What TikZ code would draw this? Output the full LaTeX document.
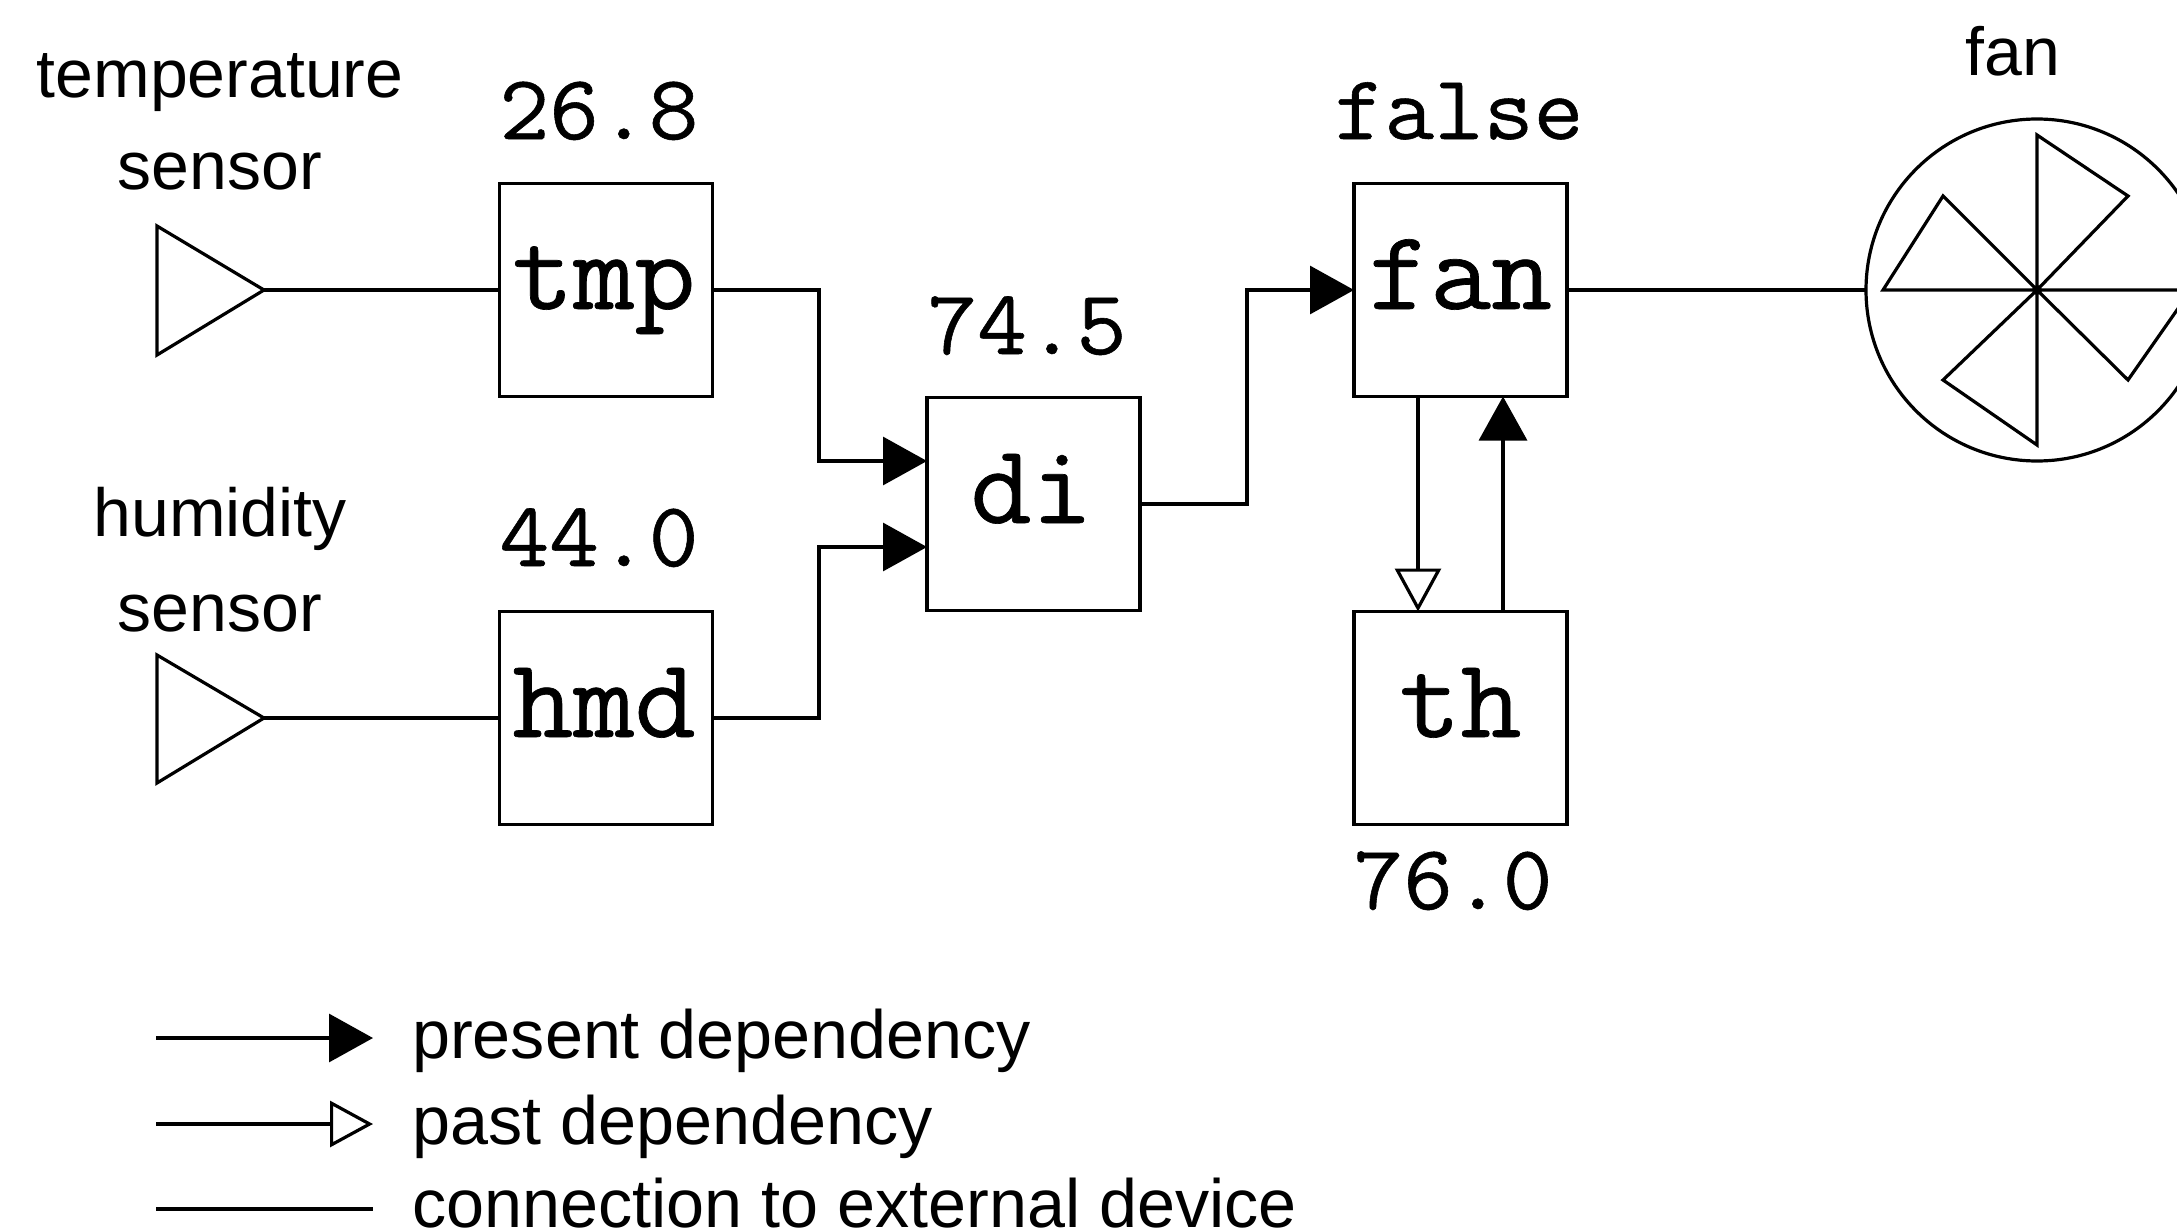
\documentclass[tikz,border=0pt]{standalone}
\usepackage{fontspec}
\setmainfont{Liberation Sans}
\newfontfamily\blockfont[FakeBold=0.6,FakeStretch=1.05]{Latin Modern Mono}
\usetikzlibrary{arrows.meta}
\tikzset{
  wire/.style={line width=3.2pt,line join=miter},
  present/.style={wire,-{Triangle[length=44pt,width=48pt]}},
  past/.style={wire,-{Triangle[open,fill=white,length=43pt,width=46pt]}},
  blockbox/.style={draw,line width=3.2pt,inner sep=0pt,outer sep=0pt,minimum width=213pt,minimum height=213pt,
    text height=50pt,text depth=12pt,font=\blockfont\fontsize{113}{113}\selectfont},
  valuetext/.style={anchor=base,inner sep=0pt,font=\blockfont\fontsize{92}{92}\selectfont},
  labeltext/.style={anchor=base,inner sep=0pt,font=\fontsize{68}{68}\selectfont},
  legendtext/.style={anchor=base west,inner sep=0pt,font=\fontsize{68.3}{68}\selectfont},
}
\begin{document}
\begin{tikzpicture}[x=1pt,y=-1pt]
\useasboundingbox (0,0) rectangle (2177,1231);
\clip (0,0) rectangle (2177,1231);
% blocks
\node[blockbox] (tmp) at (606,290) {\hspace*{-4pt}tmp};
\node[blockbox] (hmd) at (606,718) {\hspace*{-4pt}hmd};
\node[blockbox] (di)  at (1033.5,504) {\hspace*{-4pt}di};
\node[blockbox] (fanb) at (1460.5,290) {fan};
\node[blockbox] (th)  at (1460.5,718) {th};
% values
\node[valuetext] (vtmp) at (599,139) {26.8};
\node[valuetext] (vhmd) at (599,566) {44.0};
\node[valuetext] (vdi)  at (1027,354) {74.5};
\node[valuetext] (vfan) at (1459,139) {false};
\node[valuetext] (vth)  at (1453,909) {76.0};
% labels
\node[labeltext] (l1) at (220,97) {temperature};
\node[labeltext] (l2) at (220,189) {sensor};
\node[labeltext] (l3) at (220,536) {humidity};
\node[labeltext] (l4) at (220,631) {sensor};
\node[labeltext] (l5) at (2013,75) {fan};
% sensors
\coordinate (s1) at (264,290);
\coordinate (s2) at (264,718);
\draw[wire] (157,226) -- (157,355) -- (s1) -- cycle;
\draw[wire] (157,655) -- (157,783) -- (s2) -- cycle;
\draw[wire] (s1) -- (tmp.west);
\draw[wire] (s2) -- (hmd.west);
% dependencies
\coordinate (b1) at (819,461);
\coordinate (b2) at (819,547);
\coordinate (b3) at (1247,290);
\draw[present] (tmp.east) -| (b1) -- (b1 -| di.west);
\draw[present] (hmd.east) -| (b2) -- (b2 -| di.west);
\draw[present] (di.east) -| (b3) -- (fanb.west);
\coordinate (c1) at (1418,0);
\coordinate (c2) at (1503,0);
\draw[past] (c1 |- fanb.south) -- (c1 |- th.north);
\draw[present] (c2 |- th.north) -- (c2 |- fanb.south);
% fan
\node[draw,circle,line width=3.2pt,inner sep=0pt,outer sep=0pt,minimum size=342pt] (fanc) at (2037,290) {};
\draw[wire] (fanb.east) -- (fanc.west);
\fill (fanc.center) circle (5pt);
\draw[wire] (fanc.center) -- (2037,135) -- (2128,196) -- cycle;
\draw[wire] (fanc.center) -- (1883,290) -- (1943,196) -- cycle;
\draw[wire] (fanc.center) -- (2037,445) -- (1943,380) -- cycle;
\draw[wire] (fanc.center) -- (2191,290) -- (2128,380) -- cycle;
% legend
\coordinate (a1) at (156,1038);
\coordinate (a2) at (373,1038);
\coordinate (b4) at (156,1124);
\coordinate (b5) at (373,1124);
\coordinate (d1) at (156,1209);
\coordinate (d2) at (373,1209);
\draw[present] (a1) -- (a2);
\draw[past] (b4) -- (b5);
\draw[wire] (d1) -- (d2);
\node[legendtext] (t1) at (412,1058) {present dependency};
\node[legendtext] (t2) at (412,1144) {past dependency};
\node[legendtext] (t3) at (412,1227) {connection to external device};
\end{tikzpicture}
\end{document}
